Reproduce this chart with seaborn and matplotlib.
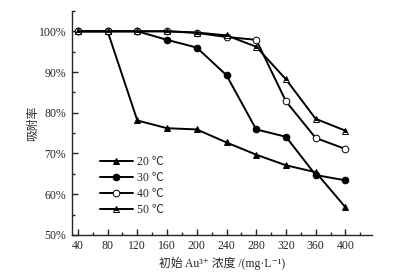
import matplotlib
matplotlib.use("Agg")
import matplotlib.pyplot as plt
import seaborn as sns
import pandas as pd
from matplotlib.ticker import MultipleLocator, FuncFormatter

conc = [40, 80, 120, 160, 200, 240, 280, 320, 360, 400]
t20 = [100, 100, 78.1, 76.2, 75.9, 72.7, 69.7, 67.1, 65.4, 56.8]
t30 = [100, 100, 100, 97.9, 96.0, 89.2, 75.9, 74.1, 64.7, 63.4]
t40 = [100, 100, 100, 100, 99.6, 98.6, 97.9, 82.8, 73.8, 71.1]
t50 = [100, 100, 100, 100, 99.7, 99.0, 96.2, 88.2, 78.5, 75.6]
labels = ["20 ℃", "30 ℃", "40 ℃", "50 ℃"]
xticks = [40, 80, 120, 160, 200, 240, 280, 320, 360, 400]

sns.set_style("ticks")
plt.rcParams['font.family'] = ['Liberation Serif', 'Noto Sans CJK SC', 'DejaVu Sans']

fig = plt.figure(figsize=(3.93, 2.80), dpi=100)
ax = fig.add_axes([0.183, 0.161, 0.764, 0.800])

styles = [
    dict(marker='^', mfc='black', mec='black'),
    dict(marker='o', mfc='black', mec='black'),
    dict(marker='o', mfc='white', mec='black'),
    dict(marker='^', mfc='black', mec='black', fillstyle='top', mfcalt='white'),
]
for vals, lab, st in zip([t20, t30, t40, t50], labels, styles):
    df = pd.DataFrame({"x": conc, "y": vals})
    kw = dict(marker=st['marker'], markerfacecolor=st['mfc'], markeredgecolor=st['mec'],
              markersize=4.8, markeredgewidth=0.7)
    if 'fillstyle' in st:
        kw['fillstyle'] = st['fillstyle']
        kw['markerfacecoloralt'] = st['mfcalt']
    sns.lineplot(data=df, x="x", y="y", ax=ax, color='black', linewidth=1.4,
                 label=lab, **kw)

ax.set_xlim(32, 436)
ax.set_ylim(50, 105)
ax.set_xticks(xticks)
ax.xaxis.set_minor_locator(MultipleLocator(20))
ax.set_yticks([50, 60, 70, 80, 90, 100])
ax.yaxis.set_minor_locator(MultipleLocator(5))
ax.yaxis.set_major_formatter(FuncFormatter(lambda v, p: f"{int(v)}%"))
ax.tick_params(axis='both', which='major', direction='in', length=4, width=1,
               labelsize=8.5, pad=4)
ax.tick_params(axis='both', which='minor', direction='in', length=2.5, width=1)
for s in ['top', 'right']:
    ax.spines[s].set_visible(False)
for s in ['left', 'bottom']:
    ax.spines[s].set_linewidth(1)

ax.set_xlabel("初始 Au³⁺ 浓度 /(mg·L⁻¹)", fontsize=8.5, labelpad=3)
ax.set_ylabel("吸附率", fontsize=8.5, labelpad=0)

leg = ax.legend(loc='upper left', bbox_to_anchor=(0.057, 0.40), frameon=False,
                fontsize=8.5, handlelength=2.8, labelspacing=0.35, handletextpad=0.4)

fig.savefig("out.png", dpi=100)
